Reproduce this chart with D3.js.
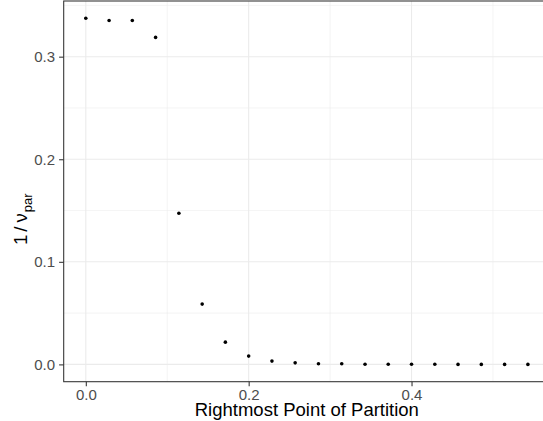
<!DOCTYPE html>
<html>
<head>
<meta charset="utf-8">
<script src="https://cdn.jsdelivr.net/npm/d3@7"></script>
<style>
  html, body { margin: 0; padding: 0; background: #fff; }
  svg { display: block; font-family: "Liberation Sans", Arial, Helvetica, sans-serif; }
</style>
</head>
<body>
<svg id="chart" width="543" height="421"></svg>
<script>
// ---- data ----
const partitionPoint = [0, 0.0286, 0.0571, 0.0857, 0.1143, 0.1429, 0.1714, 0.2, 0.2286, 0.2571,
                        0.2857, 0.3143, 0.3429, 0.3714, 0.4, 0.4286, 0.4571, 0.4857, 0.5143, 0.5429];
const invNuPar = [0.3374, 0.3352, 0.3352, 0.3188, 0.1474, 0.0588, 0.0217, 0.0081, 0.0032, 0.0015,
                  0.0007, 0.0006, 0.0002, 0.0002, 0.0001, 0.0001, 0.0000, 0.0000, 0.0000, 0.0000];
const xTicks = [0.0, 0.2, 0.4];
const xMinor = [0.1, 0.3, 0.5];
const yTicks = [0.0, 0.1, 0.2, 0.3];
const yMinor = [0.05, 0.15, 0.25, 0.35];
const xTitle = "Rightmost Point of Partition";

// ---- layout ----
const panel = { left: 63.7, right: 550, top: 1, bottom: 381.7 };
function expand(ext) { const d = (ext[1] - ext[0]) * 0.05; return [ext[0] - d, ext[1] + d]; }

const x = d3.scaleLinear().domain(expand(d3.extent(partitionPoint))).range([panel.left, panel.right]);
const y = d3.scaleLinear().domain(expand(d3.extent(invNuPar))).range([panel.bottom, panel.top]);

const svg = d3.select("#chart");
const g = svg.append("g");

// minor grid
g.selectAll(".xminor").data(xMinor).enter().append("line")
  .attr("x1", d => x(d)).attr("x2", d => x(d)).attr("y1", panel.top).attr("y2", panel.bottom)
  .attr("stroke", "#ebebeb").attr("stroke-width", 0.53);
g.selectAll(".yminor").data(yMinor).enter().append("line")
  .attr("y1", d => y(d)).attr("y2", d => y(d)).attr("x1", panel.left).attr("x2", panel.right)
  .attr("stroke", "#ebebeb").attr("stroke-width", 0.53);
// major grid
g.selectAll(".xmajor").data(xTicks).enter().append("line")
  .attr("x1", d => x(d)).attr("x2", d => x(d)).attr("y1", panel.top).attr("y2", panel.bottom)
  .attr("stroke", "#ebebeb").attr("stroke-width", 1.07);
g.selectAll(".ymajor").data(yTicks).enter().append("line")
  .attr("y1", d => y(d)).attr("y2", d => y(d)).attr("x1", panel.left).attr("x2", panel.right)
  .attr("stroke", "#ebebeb").attr("stroke-width", 1.07);

// points
g.selectAll("circle").data(partitionPoint).enter().append("circle")
  .attr("cx", d => x(d)).attr("cy", (d, i) => y(invNuPar[i]))
  .attr("r", 1.8).attr("fill", "#000");

// panel border
g.append("rect")
  .attr("x", panel.left).attr("y", panel.top)
  .attr("width", panel.right - panel.left).attr("height", panel.bottom - panel.top)
  .attr("fill", "none").attr("stroke", "#333333").attr("stroke-width", 1.07);

// axes
const xAxis = d3.axisBottom(x).tickValues(xTicks).tickFormat(d3.format(".1f"))
  .tickSizeInner(4.6).tickSizeOuter(0).tickPadding(3);
const xa = svg.append("g").attr("transform", `translate(0,${panel.bottom})`).call(xAxis);
xa.select(".domain").remove();
xa.selectAll(".tick line").attr("stroke", "#333333").attr("stroke-width", 1.07);
xa.selectAll(".tick text").attr("fill", "#4d4d4d").style("font-size", "15px")
  .style("font-family", "'Liberation Sans', Arial, sans-serif");

const yAxis = d3.axisLeft(y).tickValues(yTicks).tickFormat(d3.format(".1f"))
  .tickSizeInner(4.6).tickSizeOuter(0).tickPadding(4);
const ya = svg.append("g").attr("transform", `translate(${panel.left},0)`).call(yAxis);
ya.select(".domain").remove();
ya.selectAll(".tick line").attr("stroke", "#333333").attr("stroke-width", 1.07);
ya.selectAll(".tick text").attr("fill", "#4d4d4d").style("font-size", "15px")
  .style("font-family", "'Liberation Sans', Arial, sans-serif");

// x title
svg.append("text")
  .attr("x", (panel.left + panel.right) / 2).attr("y", 415.5)
  .attr("text-anchor", "middle").style("font-size", "18.5px").attr("fill", "#000")
  .text(xTitle);

// y title: 1/ν_par
const yt = svg.append("text")
  .attr("transform", "translate(26.5,245) rotate(-90)")
  .attr("text-anchor", "start").style("font-size", "18.5px").attr("fill", "#000");
yt.append("tspan").text("1");
yt.append("tspan").attr("dx", 3).text("/");
yt.append("tspan").attr("dx", 4).text("ν");
yt.append("tspan").attr("dx", 1).attr("dy", 5).style("font-size", "13px").text("par");
</script>
</body>
</html>
